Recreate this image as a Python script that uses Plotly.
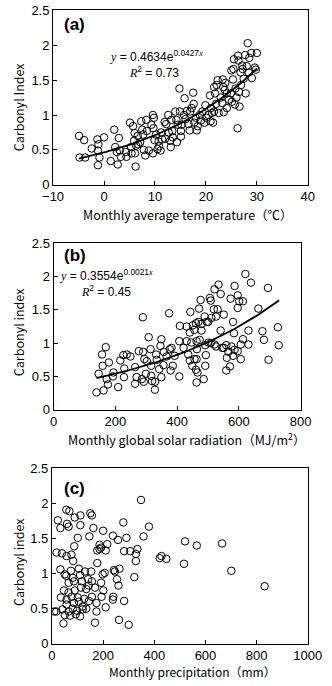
import numpy as np
import plotly.graph_objects as go

# ---------------- data ----------------
# (a) monthly average temperature (°C) vs carbonyl index
temp_x = [-4.9, -4.8, -3.9, -3.7, -2.4, -1.3, -1.1, -1.2, -0.9, -1.2, 0.0, 1.3, 2.0, 2.2, 2.5, 2.7, 2.9,
          3.1, 3.3, 4.3, 4.4, 5.1, 5.3, 5.4, 5.7, 5.9, 6.0, 6.1, 6.2, 6.3, 6.6, 6.7, 7.1, 7.3, 7.5, 7.7,
          7.8, 8.1, 8.3, 8.4, 8.8, 9.3, 9.6, 9.8, 9.7, 9.6, 9.9, 10.2, 10.5, 10.7, 11.1, 11.2, 11.4, 11.9,
          12.2, 12.6, 12.7, 13.0, 13.1, 13.2, 13.4, 13.5, 14.0, 14.2, 14.3, 14.5, 14.8, 14.9, 15.1, 15.1,
          15.2, 15.7, 15.8, 16.3, 16.6, 16.8, 16.9, 17.2, 17.5, 17.6, 17.7, 18.0, 18.2, 18.8, 19.3, 19.7,
          19.9, 20.1, 20.5, 20.8, 20.9, 21.0, 21.2, 21.4, 21.6, 21.8, 22.1, 22.3, 22.5, 22.9, 23.2, 23.3,
          23.4, 23.5, 23.7, 24.1, 24.9, 25.1, 25.3, 25.4, 25.5, 25.7, 25.8, 26.0, 26.2, 26.3, 26.4, 26.5,
          26.6, 26.8, 26.9, 27.1, 27.2, 27.7, 27.8, 28.2, 28.4, 28.5, 28.9, 29.0, 29.6, 29.8, 30.0, 24.1,
          18.4, 19.0, 21.6, 22.0, 24.5, 12.0, 10.8, 16.0, 23.8, 25.0, 27.4, 28.0]
temp_ci = [0.70, 0.39, 0.64, 0.39, 0.52, 0.65, 0.58, 0.49, 0.39, 0.28, 0.68, 0.34, 0.79, 0.54, 0.47, 0.29, 0.67,
           0.49, 0.40, 0.47, 0.40, 0.89, 0.54, 0.45, 0.84, 0.63, 0.74, 0.45, 0.26, 0.56, 0.70, 0.58, 0.61, 0.91,
           0.79, 0.72, 0.50, 0.42, 0.93, 0.77, 0.49, 0.86, 1.00, 0.96, 0.81, 0.45, 0.64, 0.72, 0.51, 0.62, 0.49,
           0.75, 0.65, 0.90, 0.87, 1.00, 0.75, 0.63, 0.54, 0.93, 0.77, 0.68, 1.05, 0.93, 0.61, 0.86, 1.38, 1.05,
           0.77, 0.69, 0.86, 1.00, 1.24, 1.06, 0.87, 0.78, 1.05, 1.10, 1.32, 1.16, 0.89, 0.96, 0.78, 1.00, 1.05,
           0.89, 1.14, 0.96, 1.00, 1.28, 0.91, 1.10, 1.03, 0.89, 1.40, 1.31, 1.43, 1.50, 1.03, 1.25, 1.17, 1.51,
           1.40, 1.04, 1.36, 1.31, 1.31, 1.19, 1.51, 1.66, 1.80, 1.15, 1.38, 1.25, 0.81, 1.85, 1.78, 1.33, 1.12,
           1.61, 1.43, 1.71, 1.66, 1.86, 1.31, 2.03, 1.61, 1.82, 1.89, 1.53, 1.68, 1.65, 1.89, 1.10,
           0.84, 0.92, 1.05, 1.16, 1.22, 0.66, 0.55, 0.94, 1.46, 1.64, 1.52, 1.70]

# (b) monthly global solar radiation (MJ/m2) vs carbonyl index
solar_x = [139, 146, 157, 169, 159, 179, 162, 176, 172, 192, 194, 209, 216, 226, 237, 229, 228, 249, 264, 264,
           269, 276, 289, 290, 294, 286, 292, 299, 302, 308, 314, 316, 316, 319, 328, 329, 334, 332, 342, 346,
           349, 349, 356, 357, 366, 374, 376, 379, 382, 386, 392, 409, 407, 407,
           621, 639, 521, 534, 586, 694, 506, 509, 541, 573, 596, 601, 613, 476, 471, 443, 519, 531, 596, 551,
           663, 489, 469, 496, 511, 526, 461, 431, 501, 581, 479, 451, 456, 479, 541, 584, 631, 676, 726, 441,
           431, 446, 463, 473, 501, 509, 521, 559, 551, 576, 606, 613, 631, 681, 729, 491, 526, 421, 464, 586,
           596, 566, 581, 546, 436, 456, 493, 561, 606, 441, 463, 696, 449, 461, 491, 571, 559, 466, 486, 463]
solar_ci = [0.26, 0.54, 0.83, 0.94, 0.66, 0.71, 0.29, 0.38, 0.46, 0.50, 0.56, 0.34, 0.74, 0.82, 0.83, 0.62, 0.49,
            0.80, 0.64, 0.39, 0.49, 0.88, 1.39, 0.87, 0.76, 0.46, 0.42, 0.54, 0.73, 1.09, 0.91, 0.66, 0.51, 0.43,
            0.30, 0.42, 0.75, 0.83, 0.61, 0.96, 1.06, 0.49, 0.67, 0.87, 0.80, 1.45, 0.91, 0.59, 0.93, 0.66, 0.81,
            1.26, 1.03, 0.50,
            2.04, 1.91, 1.81, 1.88, 1.86, 1.83, 1.68, 1.64, 1.74, 1.67, 1.72, 1.63, 1.63, 1.65, 1.52, 1.47, 1.51,
            1.51, 1.53, 1.43, 1.52, 1.40, 1.32, 1.32, 1.38, 1.40, 1.30, 1.25, 1.32, 1.32, 1.29, 1.27, 1.20, 1.19,
            1.19, 1.15, 1.19, 1.18, 1.24, 1.16, 1.03, 1.01, 1.03, 1.05, 1.01, 1.00, 0.98, 0.97, 0.93, 0.95, 0.98,
            1.06, 0.98, 1.05, 0.97, 0.97, 0.95, 0.93, 0.91, 0.90, 0.88, 0.87, 0.81, 0.93, 0.83, 0.76, 0.82, 0.78,
            0.76, 0.74, 0.76, 0.75, 0.66, 0.60, 0.66, 0.65, 0.59, 0.56, 0.46, 0.41]

# (c) monthly precipitation (mm) vs carbonyl index
precip_x = [348, 56, 68, 150, 156, 89, 111, 23, 59, 33, 65, 111, 162, 200, 279, 379, 101, 146, 238, 258, 291, 358,
            87, 186, 192, 216, 177, 186, 210, 18, 39, 57, 76, 83, 282, 306, 334, 328, 328, 421, 447, 177, 33, 50,
            56, 74, 81, 105, 110, 129, 153, 198, 206, 242, 246, 264, 254, 260, 322, 65, 86, 117, 141, 156, 192,
            47, 65, 89, 113, 134, 144, 168, 201, 35, 57, 77, 101, 126, 144, 156, 194, 240, 238, 282, 57, 86, 105,
            120, 174, 17, 9, 41, 65, 81, 98, 120, 134, 174, 210, 50, 71, 93, 110, 45, 168, 262, 300,
            520, 566, 665, 516, 701, 831, 428]
precip_ci = [2.05, 1.91, 1.89, 1.86, 1.83, 1.80, 1.83, 1.76, 1.71, 1.65, 1.67, 1.69, 1.65, 1.61, 1.73, 1.67, 1.51,
             1.53, 1.54, 1.48, 1.51, 1.53, 1.39, 1.41, 1.37, 1.42, 1.33, 1.35, 1.33, 1.30, 1.29, 1.25, 1.27, 1.18,
             1.32, 1.32, 1.35, 1.28, 1.18, 1.22, 1.21, 1.15, 1.06, 0.99, 0.97, 1.04, 0.94, 1.07, 0.98, 1.03, 1.03,
             0.99, 1.01, 1.05, 1.03, 1.07, 0.92, 0.83, 0.95, 0.87, 0.89, 0.89, 0.92, 0.89, 0.87, 0.76, 0.73, 0.76,
             0.80, 0.78, 0.83, 0.80, 0.76, 0.66, 0.63, 0.67, 0.66, 0.64, 0.61, 0.67, 0.67, 0.67, 0.63, 0.61, 0.56,
             0.58, 0.60, 0.53, 0.58, 0.46, 0.46, 0.49, 0.46, 0.50, 0.47, 0.49, 0.50, 0.46, 0.52, 0.41, 0.40, 0.42,
             0.39, 0.29, 0.30, 0.34, 0.27,
             1.46, 1.40, 1.43, 1.14, 1.04, 0.82, 1.25]

# fitted trend lines (coefficients printed on the chart)
temp_fit_a, temp_fit_b = 0.4634, 0.0427
solar_fit_a, solar_fit_b = 0.3554, 0.0021

# ---------------- figure ----------------
W, H = 332, 686


def px(x, y):
    return x / W, 1 - y / H


fig = go.Figure()

marker = dict(symbol="circle-open", size=7.5, color="black", line=dict(width=1, color="black"))

fig.add_trace(go.Scatter(x=temp_x, y=temp_ci, mode="markers", marker=marker, xaxis="x", yaxis="y"))
tx = np.linspace(min(temp_x), max(temp_x), 80)
fig.add_trace(go.Scatter(x=tx, y=temp_fit_a * np.exp(temp_fit_b * tx), mode="lines",
                         line=dict(color="black", width=1.8), xaxis="x", yaxis="y"))

fig.add_trace(go.Scatter(x=solar_x, y=solar_ci, mode="markers", marker=marker, xaxis="x2", yaxis="y2"))
sx = np.linspace(min(solar_x), 730, 80)
fig.add_trace(go.Scatter(x=sx, y=solar_fit_a * np.exp(solar_fit_b * sx), mode="lines",
                         line=dict(color="black", width=1.8), xaxis="x2", yaxis="y2"))

fig.add_trace(go.Scatter(x=precip_x, y=precip_ci, mode="markers", marker=marker, xaxis="x3", yaxis="y3"))

tickfont = dict(family="Liberation Sans, Arial, sans-serif", size=13, color="black")
common = dict(showgrid=False, zeroline=False, showline=True, linecolor="black", linewidth=1,
              mirror=True, ticks="inside", ticklen=4, tickcolor="black", tickfont=tickfont)

# pixel geometry of the three plot boxes
dom = {
    "a": dict(x0=45.5, x1=321, y0=3.5, y1=181.7),
    "b": dict(x0=46, x1=313.3, y0=241.7, y1=411.7),
    "c": dict(x0=44.3, x1=321, y0=471.7, y1=651),
}


def xd(d):
    return [d["x0"] / W, d["x1"] / W]


def yd(d):
    return [1 - d["y1"] / H, 1 - d["y0"] / H]


fig.update_layout(
    width=W, height=H, margin=dict(l=0, r=0, t=0, b=0),
    paper_bgcolor="white", plot_bgcolor="white", showlegend=False,
    xaxis=dict(domain=xd(dom["a"]), range=[-10, 40], dtick=10, anchor="y", **common),
    yaxis=dict(domain=yd(dom["a"]), range=[0, 2.5], dtick=0.5, anchor="x", **common),
    xaxis2=dict(domain=xd(dom["b"]), range=[0, 800], dtick=200, anchor="y2", **common),
    yaxis2=dict(domain=yd(dom["b"]), range=[0, 2.5], dtick=0.5, anchor="x2", **common),
    xaxis3=dict(domain=xd(dom["c"]), range=[0, 1000], dtick=200, anchor="y3", **common),
    yaxis3=dict(domain=yd(dom["c"]), range=[0, 2.5], dtick=0.5, anchor="x3", **common),
)

titlefont = dict(family="Noto Sans CJK JP, sans-serif", size=12.5, color="black")
labfont = dict(family="Liberation Sans, Arial, sans-serif", size=17, color="black")
eqfont = dict(family="Liberation Sans, Arial, sans-serif", size=12, color="black")
it = '<span style="font-family:Liberation Serif, Times New Roman, serif;font-style:italic">{}</span>'

ann = []


def add(text, x, y, font, angle=0, xanchor="center"):
    ax, ay = px(x, y)
    ann.append(dict(text=text, x=ax, y=ay, xref="paper", yref="paper", showarrow=False,
                    font=font, textangle=angle, xanchor=xanchor, yanchor="middle"))


# panel labels
add("<b>(a)</b>", 55, 18, labfont, xanchor="left")
add("<b>(b)</b>", 55, 254, labfont, xanchor="left")
add("<b>(c)</b>", 55, 492, labfont, xanchor="left")

# equations
add(it.format("y") + " = 0.4634e<sup>0.0427" + it.format("x") + "</sup>", 157, 50, eqfont)
add(it.format("R") + "<sup>2</sup> = 0.73", 155, 66, eqfont)
add(it.format("y") + " = 0.3554e<sup>0.0021" + it.format("x") + "</sup>", 51, 274, eqfont, xanchor="left")
add(it.format("R") + "<sup>2</sup> = 0.45", 73, 290, eqfont, xanchor="left")

# axis titles
add("Monthly average temperature（℃）", 191, 212, titlefont)
add("Monthly global solar radiation（MJ/m<sup>2</sup>）", 190, 442, titlefont)
add("Monthly precipitation（mm）", 196, 679, dict(titlefont, size=12))
add("Carbonyl Index", 8, 102, titlefont, angle=-90)
add("Carbonyl index", 8, 332, titlefont, angle=-90)
add("Carbonyl index", 8, 567, titlefont, angle=-90)

fig.update_layout(annotations=ann)

fig.write_html("out.html", config={"displayModeBar": False},
               post_script="document.body.style.margin='0';document.body.style.overflow='hidden';")
